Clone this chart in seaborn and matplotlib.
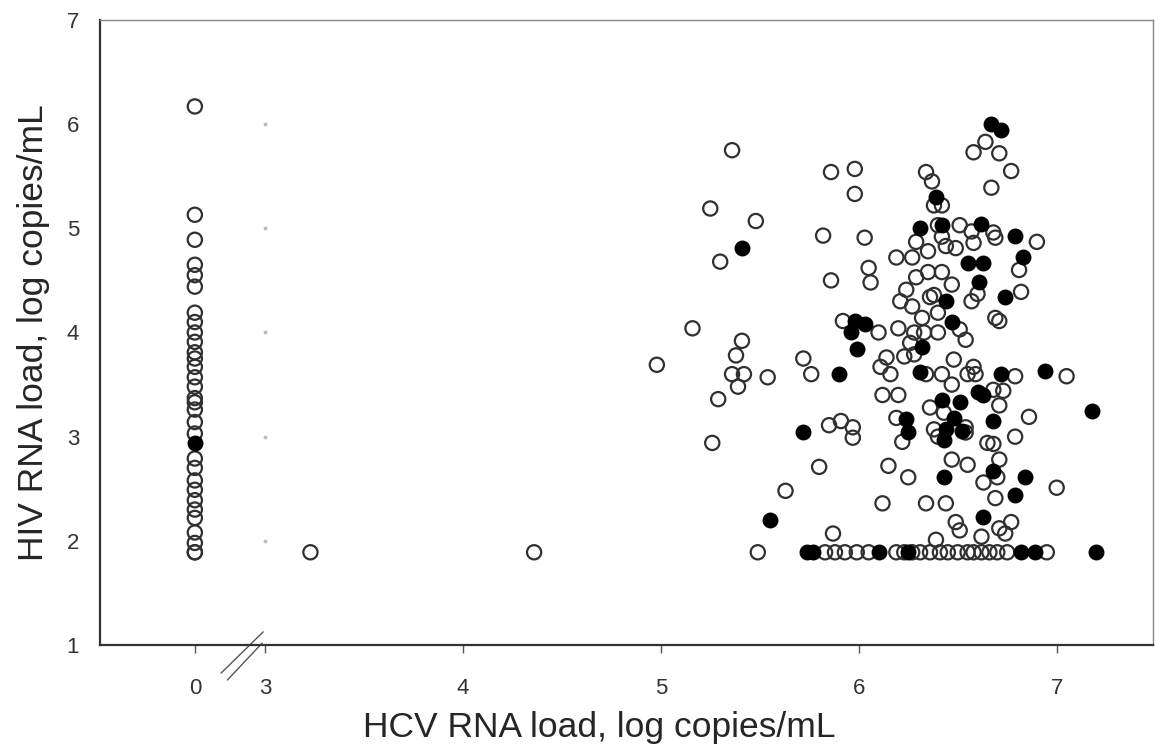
import numpy as np
import pandas as pd
import seaborn as sns
import matplotlib.pyplot as plt

# HIV load of patients with undetectable HCV RNA (drawn at "0", left of the axis break)
zero_hiv_open = [6.17, 5.13, 4.89, 4.65, 4.55, 4.44, 4.19, 4.10, 4.00, 3.91, 3.81, 3.75,
                 3.67, 3.57, 3.48, 3.37, 3.33, 3.26, 3.14, 3.03, 2.79, 2.70, 2.58, 2.49,
                 2.39, 2.30, 2.22, 2.08, 1.98, 1.89, 1.89]
zero_hiv_filled = [2.94]

# HIV below detection limit (floor at 1.89)
floor_hiv = 1.89
floor_hcv_open = [3.23, 4.36, 5.49, 5.83, 5.88, 5.93, 5.99, 6.05, 6.19, 6.23, 6.27, 6.31,
                  6.36, 6.41, 6.45, 6.50, 6.55, 6.58, 6.62, 6.66, 6.70, 6.75, 6.95]
floor_hcv_filled = [5.74, 5.77, 6.10, 6.25, 6.82, 6.89, 7.20]

# detectable HCV and HIV, open circles
open_hcv = [4.98, 5.36, 5.86, 5.98, 5.98, 5.25, 5.48, 5.30, 5.82, 5.86, 5.16, 5.41, 5.38,
            5.36, 5.42, 5.39, 5.54, 5.29, 5.26, 5.72, 5.76, 5.92, 5.85, 5.91, 5.97, 5.97,
            5.80, 5.63, 5.87,
            6.34, 6.37, 6.38, 6.42, 6.03, 6.40, 6.51, 6.29, 6.35, 6.42, 6.44, 6.49, 6.19,
            6.27, 6.05, 6.06, 6.29, 6.35, 6.42, 6.47, 6.24, 6.21, 6.27, 6.36, 6.38, 6.40,
            6.32, 6.10, 6.20, 6.28, 6.33, 6.40, 6.51,
            6.14, 6.11, 6.16, 6.26, 6.23, 6.28, 6.34, 6.42, 6.47, 6.48, 6.12, 6.20, 6.36,
            6.43, 6.19, 6.22, 6.38, 6.40, 6.54, 6.47, 6.55, 6.15, 6.25, 6.12, 6.34, 6.44,
            6.49, 6.51, 6.39,
            6.64, 6.58, 6.71, 6.77, 6.67, 6.57, 6.58, 6.68, 6.69, 6.90, 6.81, 6.60, 6.57,
            6.82, 6.69, 6.71, 6.54, 6.58, 6.55, 6.59, 6.79, 7.05, 6.68, 6.73, 6.71, 6.86,
            6.54, 6.79, 6.65, 6.68, 6.71, 6.70, 6.63, 7.00, 6.69, 6.77, 6.71, 6.74, 6.62]
open_hiv = [3.69, 5.75, 5.54, 5.57, 5.33, 5.19, 5.07, 4.68, 4.93, 4.50, 4.04, 3.92, 3.78,
            3.60, 3.60, 3.48, 3.57, 3.36, 2.94, 3.75, 3.60, 4.11, 3.11, 3.15, 3.09, 2.99,
            2.71, 2.48, 2.07,
            5.54, 5.45, 5.22, 5.22, 4.91, 5.03, 5.03, 4.87, 4.78, 4.92, 4.83, 4.81, 4.72,
            4.72, 4.62, 4.48, 4.53, 4.58, 4.58, 4.46, 4.41, 4.30, 4.25, 4.34, 4.36, 4.19,
            4.14, 4.00, 4.04, 4.00, 4.00, 4.00, 4.03,
            3.76, 3.67, 3.60, 3.90, 3.77, 3.79, 3.60, 3.60, 3.50, 3.74, 3.40, 3.40, 3.28,
            3.23, 3.18, 2.95, 3.07, 3.00, 3.09, 2.78, 2.73, 2.72, 2.61, 2.36, 2.36, 2.36,
            2.18, 2.10, 2.01,
            5.83, 5.73, 5.72, 5.55, 5.39, 4.97, 4.86, 4.96, 4.91, 4.87, 4.60, 4.37, 4.30,
            4.39, 4.14, 4.11, 3.93, 3.67, 3.60, 3.60, 3.58, 3.58, 3.45, 3.44, 3.30, 3.19,
            3.04, 3.00, 2.94, 2.93, 2.78, 2.61, 2.56, 2.51, 2.41, 2.18, 2.12, 2.07, 2.04]

# detectable HCV and HIV, filled circles
filled_hcv = [5.41, 5.90, 5.98, 5.96, 5.99, 5.72, 5.55, 6.39, 6.31, 6.42, 6.55, 6.44, 6.03,
              6.47, 6.32, 6.31, 6.42, 6.51, 6.48, 6.24, 6.25, 6.44, 6.43, 6.43, 6.52, 6.67,
              6.72, 6.62, 6.79, 6.63, 6.83, 6.61, 6.74, 6.72, 6.94, 6.60, 6.63, 6.68, 6.68,
              6.84, 6.79, 6.63, 7.18]
filled_hiv = [4.81, 3.60, 4.11, 4.00, 3.84, 3.04, 2.20, 5.30, 5.00, 5.03, 4.67, 4.30, 4.08,
              4.10, 3.86, 3.62, 3.35, 3.33, 3.18, 3.17, 3.04, 3.07, 2.97, 2.61, 3.05, 6.00,
              5.94, 5.04, 4.93, 4.67, 4.72, 4.48, 4.34, 3.60, 3.63, 3.43, 3.40, 3.15, 2.67,
              2.61, 2.44, 2.23, 3.25]

x_ticks = [0, 3, 4, 5, 6, 7]
y_ticks = [1, 2, 3, 4, 5, 6, 7]
zero_pos = 2.646  # where "0" sits on the broken axis


def build_df(hcv, hiv, group):
    return pd.DataFrame({"hcv": hcv, "hiv": hiv, "group": group})


df = pd.concat([
    build_df([0] * len(zero_hiv_open), zero_hiv_open, "open"),
    build_df([0] * len(zero_hiv_filled), zero_hiv_filled, "filled"),
    build_df(floor_hcv_open, [floor_hiv] * len(floor_hcv_open), "open"),
    build_df(floor_hcv_filled, [floor_hiv] * len(floor_hcv_filled), "filled"),
    build_df(open_hcv, open_hiv, "open"),
    build_df(filled_hcv, filled_hiv, "filled"),
], ignore_index=True)
df["xpos"] = np.where(df["hcv"] == 0, zero_pos, df["hcv"])

sns.set_style("white")
plt.rcParams["font.family"] = ["Liberation Sans", "DejaVu Sans"]

fig = plt.figure(figsize=(11.55, 7.48), dpi=100)
ax = fig.add_axes([0.0866, 0.1377, 0.9114, 0.8356])

open_df = df[df["group"] == "open"]
filled_df = df[df["group"] == "filled"]
sns.scatterplot(data=open_df, x="xpos", y="hiv", ax=ax, marker="o", s=105,
                facecolor="none", edgecolor="#303030", linewidth=1.6)
sns.scatterplot(data=filled_df, x="xpos", y="hiv", ax=ax, marker="o", s=105,
                color="black", edgecolor="black", linewidth=1.2)

ax.set_xlim(2.167, 7.485)
ax.set_ylim(1, 7)
ax.set_xticks([zero_pos if v == 0 else v for v in x_ticks])
ax.set_xticklabels([str(v) for v in x_ticks])
ax.set_yticks(y_ticks)
ax.set_yticklabels([str(v) for v in y_ticks])
ax.tick_params(axis="x", direction="out", length=6, width=1, color="#555",
               labelsize=16, labelcolor="#333", pad=18, bottom=True)
ax.tick_params(axis="y", length=0, labelsize=16, labelcolor="#333", pad=15)

ax.set_xlabel("HCV RNA load, log copies/mL", fontsize=25.5)
ax.set_ylabel("HIV RNA load, log copies/mL", fontsize=25.5, labelpad=12)
ax.xaxis.set_label_coords(0.474, -0.106)

for side in ["left", "bottom"]:
    ax.spines[side].set_color("#333")
    ax.spines[side].set_linewidth(1.6)
for side in ["top", "right"]:
    ax.spines[side].set_color("#888")
    ax.spines[side].set_linewidth(1.0)

# faint tick dots of the hidden axis at x = 3
ax.scatter([3] * (len(y_ticks) - 2), y_ticks[1:-1], s=3, color="#bbbbbb", zorder=1)

# axis break marks
ax.plot([0.115, 0.155], [-0.045, 0.021], transform=ax.transAxes, clip_on=False,
        color="#555", lw=1)
ax.plot([0.121, 0.154], [-0.056, 0.003], transform=ax.transAxes, clip_on=False,
        color="#555", lw=1)

fig.savefig("out.png", dpi=100)
